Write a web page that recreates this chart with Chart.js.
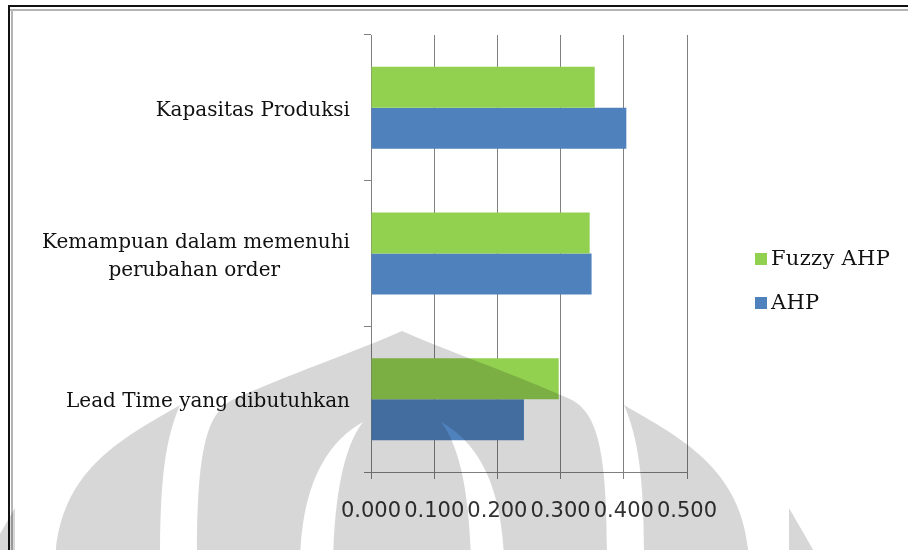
<!DOCTYPE html>
<html>
<head>
<meta charset="utf-8">
<script src="https://cdn.jsdelivr.net/npm/chart.js@4"></script>
<style>
  html, body { margin: 0; padding: 0; background: #fff; }
  #wrap { width: 908px; height: 550px; position: relative; }
</style>
</head>
<body>
<div id="wrap"><canvas id="c" width="908" height="550"></canvas></div>
<script>
// Criteria weights compared between the two methods
const categories = [
  'Kapasitas Produksi',
  ['Kemampuan dalam memenuhi', 'perubahan order\u00a0\u00a0\u00a0\u00a0\u00a0\u00a0\u00a0\u00a0\u00a0\u00a0\u00a0'],
  'Lead Time yang dibutuhkan'
];
const seriesNames = ['Fuzzy AHP', 'AHP'];
const fuzzyAhp = [0.354, 0.346, 0.297];
const ahp = [0.404, 0.349, 0.242];
const xTicks = [0.0, 0.1, 0.2, 0.3, 0.4, 0.5];
const seriesColors = ['#92D050', '#4F81BD'];

const SERIF = '"DejaVu Serif", "Liberation Serif", serif';
const SANS = '"DejaVu Sans", "Liberation Sans", sans-serif';

// white page with the double frame line on the top and left edges
const framePlugin = {
  id: 'frame',
  beforeDraw(chart) {
    const ctx = chart.ctx;
    ctx.save();
    ctx.fillStyle = '#fff';
    ctx.fillRect(0, 0, chart.width, chart.height);
    ctx.fillStyle = '#111';
    ctx.fillRect(8, 5, chart.width - 8, 2);
    ctx.fillRect(8, 5, 2, chart.height - 5);
    ctx.fillStyle = '#b4b4b4';
    ctx.fillRect(10, 9, chart.width - 10, 2);
    ctx.fillRect(11, 9, 2, chart.height - 9);
    ctx.restore();
  }
};

// legend on the right: small square swatch + serif label
const legendPlugin = {
  id: 'sideLegend',
  afterDraw(chart) {
    const ctx = chart.ctx;
    ctx.save();
    ctx.font = '21px ' + SERIF;
    ctx.letterSpacing = '0.3px';
    ctx.textBaseline = 'middle';
    ctx.textAlign = 'left';
    chart.data.datasets.forEach((ds, i) => {
      const y = 259 + i * 44;
      ctx.fillStyle = ds.backgroundColor;
      ctx.fillRect(755, y - 6, 12, 12);
      ctx.fillStyle = '#111';
      ctx.fillText(ds.label, 771, y + 1);
    });
    ctx.restore();
  }
};

// faint emblem printed across the lower half of the page
const emblemPlugin = {
  id: 'emblem',
  afterDraw(chart) {
    const ctx = chart.ctx;
    const cx = 402;
    const m = (x) => 2 * cx - x;
    ctx.save();
    ctx.globalCompositeOperation = 'multiply';
    ctx.fillStyle = '#d7d7d7';

    // central dome with two arched cut-outs
    ctx.beginPath();
    ctx.moveTo(cx, 331);
    ctx.bezierCurveTo(362, 349, 280, 378, 232, 400);
    ctx.bezierCurveTo(205, 415, 197, 455, 197, 560);
    ctx.lineTo(m(197), 560);
    ctx.bezierCurveTo(m(197), 455, m(205), 415, m(232), 400);
    ctx.bezierCurveTo(m(280), 378, m(362), 349, cx, 331);
    ctx.closePath();
    // left cut-out
    ctx.moveTo(363, 422);
    ctx.bezierCurveTo(330, 440, 302, 480, 300, 560);
    ctx.lineTo(333, 560);
    ctx.bezierCurveTo(335, 490, 345, 445, 363, 422);
    ctx.closePath();
    // right cut-out
    ctx.moveTo(m(363), 422);
    ctx.bezierCurveTo(m(330), 440, m(302), 480, m(300), 560);
    ctx.lineTo(m(333), 560);
    ctx.bezierCurveTo(m(335), 490, m(345), 445, m(363), 422);
    ctx.closePath();
    ctx.fill('evenodd');

    // side wings
    [(x) => x, m].forEach((f) => {
      ctx.beginPath();
      ctx.moveTo(f(180), 405);
      ctx.bezierCurveTo(f(120), 440, f(60), 470, f(55), 560);
      ctx.lineTo(f(160), 560);
      ctx.bezierCurveTo(f(160), 480, f(165), 440, f(180), 405);
      ctx.closePath();
      ctx.fill();
      // outer tips
      ctx.beginPath();
      ctx.moveTo(f(15), 508);
      ctx.lineTo(f(15), 560);
      ctx.lineTo(f(-15), 560);
      ctx.closePath();
      ctx.fill();
    });
    ctx.restore();
  }
};

new Chart(document.getElementById('c'), {
  type: 'bar',
  data: {
    labels: categories,
    datasets: [
      { label: seriesNames[0], data: fuzzyAhp, backgroundColor: seriesColors[0] },
      { label: seriesNames[1], data: ahp, backgroundColor: seriesColors[1] }
    ]
  },
  options: {
    indexAxis: 'y',
    responsive: false,
    animation: false,
    devicePixelRatio: 1,
    layout: { padding: { left: 0, top: 35, right: 221, bottom: 0 } },
    datasets: { bar: { barPercentage: 1, categoryPercentage: 0.563, borderWidth: 0 } },
    plugins: {
      legend: { display: false },
      tooltip: { enabled: false }
    },
    scales: {
      x: {
        min: 0,
        max: 0.5,
        afterBuildTicks(scale) { scale.ticks = xTicks.map(v => ({ value: v })); },
        afterFit(scale) { scale.height = 78; },
        ticks: {
          callback: (v) => Number(v).toFixed(3),
          font: { family: SANS, size: 21 },
          color: '#333',
          padding: 20,
          maxRotation: 0,
          autoSkip: false
        },
        grid: { color: '#808080', lineWidth: 1, tickLength: 7 },
        border: { color: '#808080', width: 1 }
      },
      y: {
        afterFit(scale) { scale.width = 371; },
        ticks: {
          font: { family: SERIF, size: 20, lineHeight: 1.4 },
          color: '#111',
          padding: 14,
          labelOffset: 3,
          autoSkip: false
        },
        grid: { drawOnChartArea: false, offset: true, color: '#808080', tickLength: 7 },
        border: { color: '#808080', width: 1 }
      }
    }
  },
  plugins: [framePlugin, legendPlugin, emblemPlugin]
});
</script>
</body>
</html>
